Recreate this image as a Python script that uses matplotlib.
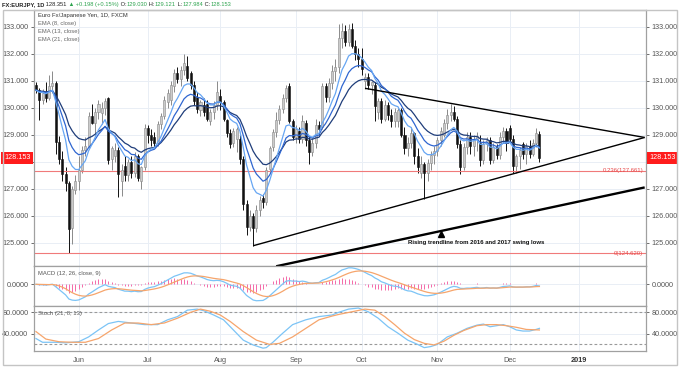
import numpy as np
import pandas as pd
import matplotlib
matplotlib.use('Agg')
import matplotlib.pyplot as plt
import matplotlib.transforms as mtransforms
from matplotlib.patches import Rectangle

# EUR/JPY daily candles, 2018-05-15 .. 2018-12-14
opens = [130.85, 130.65, 130.30, 130.60, 130.35, 130.80, 130.90, 128.75, 128.10, 127.55,
         127.20, 125.55, 126.95, 127.30, 127.70, 128.45, 128.60, 129.70, 129.45, 129.85,
         129.80, 130.00, 130.35, 128.10, 128.20, 128.45, 127.30, 127.85, 127.50, 128.00,
         127.60, 128.20, 127.30, 127.80, 129.25, 129.00, 128.90, 128.70, 129.40, 129.70,
         130.20, 130.30, 130.80, 131.30, 131.05, 131.40, 131.55, 131.30, 130.85, 130.40,
         129.90, 130.10, 130.15, 129.50, 129.85, 130.10, 130.45, 130.20, 129.55, 129.05,
         128.70, 128.85, 128.85, 128.10, 126.45, 125.60, 126.00, 125.55, 126.20, 126.65,
         126.50, 127.75, 128.55, 129.10, 129.55, 129.95, 130.35, 130.80, 129.50, 128.90,
         129.15, 128.85, 129.45, 128.80, 128.35, 128.70, 129.35, 129.30, 130.80, 130.40,
         130.90, 131.35, 131.50, 132.60, 132.85, 132.45, 132.90, 132.30, 132.00, 131.80,
         131.00, 131.15, 130.85, 130.85, 129.85, 130.25, 129.60, 130.10, 129.75, 129.50,
         129.50, 129.90, 129.00, 128.50, 128.70, 129.05, 128.20, 127.60, 127.90, 127.60,
         127.95, 128.25, 128.40, 128.80, 129.00, 129.45, 129.75, 129.85, 129.60, 128.65,
         127.80, 128.55, 128.90, 128.60, 128.85, 128.70, 128.05, 128.65, 128.80, 128.05,
         128.55, 128.25, 128.90, 129.15, 129.25, 128.85, 127.85, 128.20, 128.65, 128.30,
         128.60, 128.30, 128.70, 129.03]
highs = [130.95, 130.75, 130.70, 130.95, 131.20, 131.35, 131.00, 128.95, 128.40, 127.80,
         127.30, 127.10, 127.50, 128.20, 128.60, 128.90, 129.85, 130.15, 130.00, 130.30,
         130.20, 130.35, 130.40, 128.60, 128.70, 128.55, 127.90, 128.20, 128.10, 128.20,
         128.35, 128.30, 127.85, 129.40, 129.35, 129.20, 129.10, 129.50, 129.80, 130.45,
         130.70, 131.00, 131.45, 131.50, 131.55, 131.98, 131.90, 131.35, 131.00, 130.60,
         130.30, 130.35, 130.30, 129.95, 130.25, 131.00, 130.70, 130.30, 129.60, 129.20,
         129.25, 129.30, 129.00, 128.20, 126.60, 126.20, 126.10, 126.40, 126.75, 126.80,
         127.80, 128.60, 129.20, 129.85, 130.10, 130.50, 130.85, 130.90, 129.60, 129.35,
         129.30, 129.75, 129.55, 128.95, 128.90, 129.60, 129.50, 130.90, 130.90, 131.10,
         131.60, 131.80, 133.10, 133.13, 133.05, 133.10, 133.13, 132.50, 132.20, 132.20,
         131.30, 131.30, 131.00, 130.95, 130.35, 130.35, 130.30, 130.20, 129.95, 130.00,
         130.00, 130.00, 129.30, 128.90, 129.30, 129.10, 128.50, 128.20, 128.00, 128.10,
         128.40, 128.60, 128.90, 129.30, 129.60, 129.95, 130.15, 130.05, 129.70, 128.80,
         128.70, 129.10, 129.10, 129.00, 129.10, 129.00, 128.80, 128.90, 128.90, 128.70,
         128.65, 129.10, 129.30, 129.25, 129.35, 129.00, 128.30, 128.55, 128.75, 128.70,
         128.80, 128.85, 129.25, 129.121]
lows = [130.55, 129.55, 130.15, 130.20, 130.30, 130.55, 128.30, 127.90, 127.30, 126.90,
        124.62, 124.95, 126.80, 126.95, 127.60, 128.20, 128.50, 129.40, 129.00, 129.60,
        129.40, 129.75, 127.90, 127.70, 128.00, 126.70, 126.75, 127.30, 127.30, 127.40,
        127.45, 127.30, 127.00, 127.70, 128.70, 128.60, 128.55, 128.60, 129.20, 129.60,
        130.00, 130.10, 130.60, 130.90, 130.80, 131.20, 131.00, 130.70, 130.10, 129.80,
        129.70, 129.70, 129.50, 129.35, 129.60, 129.90, 129.90, 129.50, 128.90, 128.50,
        128.55, 128.35, 127.90, 126.20, 125.30, 125.45, 124.89, 125.40, 126.00, 126.30,
        126.40, 127.60, 128.40, 128.90, 129.40, 129.80, 130.20, 129.45, 128.80, 128.70,
        128.70, 128.70, 128.60, 127.90, 128.20, 128.50, 129.00, 129.20, 130.20, 130.20,
        130.70, 131.00, 131.30, 132.20, 132.30, 132.30, 132.20, 131.75, 131.50, 131.20,
        130.70, 130.70, 130.50, 129.50, 129.60, 129.45, 129.50, 129.55, 129.30, 129.30,
        129.30, 128.90, 128.30, 128.20, 128.50, 127.90, 127.60, 127.40, 126.62, 127.30,
        127.70, 127.90, 128.20, 128.60, 128.90, 129.20, 129.50, 129.50, 128.50, 127.55,
        127.70, 128.30, 128.30, 128.20, 128.40, 127.85, 127.90, 128.40, 127.90, 127.95,
        128.10, 128.10, 128.70, 128.40, 128.70, 127.60, 127.60, 127.75, 128.10, 127.90,
        128.15, 128.20, 128.55, 127.984]
closes = [130.65, 130.30, 130.55, 130.35, 130.80, 130.90, 128.75, 128.10, 127.55, 127.20,
          125.50, 127.00, 127.30, 127.70, 128.45, 128.60, 129.70, 129.45, 129.85, 130.15,
          130.00, 130.25, 128.05, 128.50, 128.45, 127.55, 127.70, 127.50, 128.00, 127.60,
          128.20, 127.40, 127.80, 129.25, 129.00, 128.80, 128.70, 129.40, 129.70, 130.30,
          130.55, 130.85, 131.30, 131.05, 131.40, 131.65, 131.10, 130.85, 130.25, 129.95,
          130.20, 129.85, 129.60, 129.85, 130.10, 130.60, 130.20, 129.60, 129.05, 128.65,
          129.15, 129.20, 128.10, 126.45, 125.60, 126.00, 125.55, 126.20, 126.60, 126.50,
          127.70, 128.50, 129.10, 129.55, 129.95, 130.35, 130.75, 129.50, 128.90, 129.20,
          128.85, 129.50, 128.80, 128.35, 128.70, 129.35, 129.20, 130.80, 130.40, 130.90,
          131.35, 131.50, 132.60, 132.85, 132.45, 132.90, 132.30, 132.00, 131.80, 131.45,
          131.15, 130.85, 130.95, 130.05, 130.25, 129.60, 130.10, 129.75, 129.50, 129.85,
          129.90, 129.00, 128.50, 128.70, 129.05, 128.20, 127.80, 127.90, 127.60, 127.95,
          128.25, 128.40, 128.80, 129.15, 129.45, 129.75, 129.85, 129.60, 128.65, 127.80,
          128.55, 128.90, 128.60, 128.85, 128.95, 128.05, 128.65, 128.80, 128.05, 128.55,
          128.25, 128.90, 129.15, 128.70, 128.85, 127.85, 128.20, 128.45, 128.30, 128.60,
          128.30, 128.70, 129.05, 128.153]

# Stoch (21, 8, 13) lines: bar number -> value
stoch_k_bars = [0, 2, 6, 9, 13, 16, 19, 22, 25, 29, 33, 37, 40, 43, 46, 49, 51, 54, 57, 60,
                63, 66, 69, 70, 72, 75, 78, 82, 86, 90, 92, 95, 98, 101, 104, 107, 110, 113,
                116, 118, 120, 122, 125, 128, 131, 134, 136, 138, 140, 142, 144, 146, 148,
                150, 152, 153]
stoch_k = [31, 24, 24, 23, 25, 34, 47, 59, 63, 60, 57, 57, 66, 72, 84, 86, 83, 75, 66, 47,
           28, 19, 13, 14, 24, 41, 57, 66, 72, 75, 80, 86, 88, 81, 69, 53, 41, 28,
           20, 14, 16, 20, 34, 41, 50, 56, 58, 53, 55, 57, 53, 47, 45,
           45, 48, 50]
stoch_d_bars = [0, 3, 7, 11, 15, 19, 23, 27, 31, 35, 39, 43, 47, 50, 53, 56, 59, 63, 67, 71,
                74, 78, 82, 86, 90, 92, 96, 100, 103, 106, 109, 112, 115, 118, 121, 124,
                127, 130, 134, 137, 140, 143, 146, 149, 153]
stoch_d = [44, 30, 25, 24, 24, 31, 47, 60, 60, 57, 60, 69, 80, 86, 82, 75, 63, 44, 28, 20,
           22, 34, 50, 66, 73, 76, 81, 86, 84, 72, 57, 41, 29, 22, 19, 26,
           37, 46, 55, 57, 57, 55, 52, 48, 47]

start_date = '2018-05-15'
axis_end = '2019-02-01'
month_labels = ['Jun', 'Jul', 'Aug', 'Sep', 'Oct', 'Nov', 'Dec', '2019']
y_ticks = [125, 126, 127, 128, 129, 130, 131, 132, 133]
fib_levels = [127.661, 124.620]
fib_labels = ['0.236(127.661)', '0(124.620)']
last_price = 128.153
# drawn trendlines: (date, price) pairs
upper_line = [('2018-10-02', 130.72), ('2019-01-29', 128.90)]
lower_line = [('2018-08-15', 124.89), ('2019-01-29', 128.90)]
long_line = [('2018-08-24', 124.13), ('2019-01-29', 127.05)]
note_marker = ('2018-11-02', 125.33)
note_text = ('2018-10-19', 125.0, 'Rising trendline from 2016 and 2017 swing lows')

header = [('FX:EURJPY, 1D', '#222', 'bold'), (' 128.351', '#222', 'normal'),
          (' \u25b2', '#2ea44f', 'normal'), (' +0.198 (+0.15%)', '#2ea44f', 'normal'),
          (' O:', '#222', 'normal'), ('129.030', '#2ea44f', 'normal'),
          (' H:', '#222', 'normal'), ('129.121', '#2ea44f', 'normal'),
          (' L:', '#222', 'normal'), ('127.984', '#2ea44f', 'normal'),
          (' C:', '#222', 'normal'), ('128.153', '#2ea44f', 'normal')]
legend_lines = ['Euro Fx/Japanese Yen, 1D, FXCM', 'EMA (8, close)', 'EMA (13, close)', 'EMA (21, close)']

plt.rcParams['font.family'] = ['Liberation Sans', 'DejaVu Sans']

W, H = 680, 368
fig = plt.figure(figsize=(6.8, 3.68), dpi=100)


def rect(x0, y0, x1, y1):
    return [x0 / W, 1 - y1 / H, (x1 - x0) / W, (y1 - y0) / H]


ax = fig.add_axes(rect(34, 10, 646, 266))
axm = fig.add_axes(rect(34, 266, 646, 306), sharex=ax)
axs = fig.add_axes(rect(34, 306, 646, 351), sharex=ax)

all_days = pd.bdate_range(start_date, axis_end)
pos = {d.strftime('%Y-%m-%d'): i for i, d in enumerate(all_days)}
x = np.arange(len(closes))
o, h, l, c = map(np.array, (opens, highs, lows, closes))

# month ticks at the first trading day of each month
month_ticks = []
for i in range(1, len(all_days)):
    if all_days[i].month != all_days[i - 1].month and len(month_ticks) < len(month_labels):
        month_ticks.append(i)

grid_col = '#e9eef5'
spine_col = '#a0a0a0'
tick_col = '#555555'
for a in (ax, axm, axs):
    a.set_facecolor('white')
    for s in a.spines.values():
        s.set_color(spine_col)
        s.set_linewidth(0.9)
    a.tick_params(axis='y', which='both', left=True, right=True, labelleft=True, labelright=True,
                  direction='out', length=2.5, width=0.6, colors=tick_col, labelsize=5.2, pad=1.5)
    a.tick_params(axis='x', length=0, labelbottom=False)
    a.set_xticks(month_ticks)
    a.grid(True, color=grid_col, linewidth=0.7)
    a.set_axisbelow(True)

# candles
up = c >= o
wick_col = np.where(up, '#8a8a8a', '#111111')
ax.vlines(x, l, h, colors=wick_col, linewidth=0.7, zorder=2)
body_lo = np.minimum(o, c)
body_h = np.maximum(np.abs(c - o), 0.03)
ax.bar(x[up], body_h[up], bottom=body_lo[up], width=0.62, color='#cbcbcb',
       edgecolor='#8a8a8a', linewidth=0.4, zorder=3)
ax.bar(x[~up], body_h[~up], bottom=body_lo[~up], width=0.62, color='#111111',
       edgecolor='#111111', linewidth=0.4, zorder=3)

# EMAs
cs = pd.Series(closes)
for span, col in [(21, '#1f3d7a'), (13, '#2f66d0'), (8, '#67a6f3')]:
    ax.plot(x, cs.ewm(span=span, adjust=False).mean(), color=col, linewidth=0.9, zorder=4)

# fib lines
for lvl, lab in zip(fib_levels, fib_labels):
    ax.axhline(lvl, color='#f07a7a', linewidth=0.8, zorder=2)
    ax.text(184.5, lvl, lab, color='#e84a4a', fontsize=4.3, ha='right', va='center', zorder=5)

# trendlines
for line, lw in [(upper_line, 1.0), (lower_line, 1.0), (long_line, 1.7)]:
    xs = [pos[d] for d, _ in line]
    ys = [p for _, p in line]
    ax.plot(xs, ys, color='black', linewidth=lw, zorder=5, solid_capstyle='butt')
ax.plot(pos[note_marker[0]], note_marker[1], marker='^', color='black', markersize=5, zorder=6)
ax.text(pos[note_text[0]], note_text[1], note_text[2], fontsize=4.35, fontweight='bold',
        color='#111', ha='left', va='center', zorder=6)

ax.set_xlim(-0.6, 185.4)
ax.set_ylim(124.14, 133.62)
ax.set_yticks(y_ticks)
ax.yaxis.set_major_formatter(matplotlib.ticker.FormatStrFormatter('%.3f'))

# last price tags
blend = mtransforms.blended_transform_factory(ax.transAxes, ax.transData)
for xa, ha in [(1.005, 'left'), (-0.006, 'right')]:
    ax.text(xa, last_price, '%.3f' % last_price, transform=blend, ha=ha, va='center',
            color='white', fontsize=5.2, zorder=10, clip_on=False,
            bbox=dict(boxstyle='square,pad=0.35', facecolor='#ff1c1c', edgecolor='none'))

# MACD (12, 26, close, 9)
macd = cs.ewm(span=12, adjust=False).mean() - cs.ewm(span=26, adjust=False).mean()
signal = macd.ewm(span=9, adjust=False).mean()
hist = macd - signal
axm.vlines(x, 0, hist, colors='#f46aa8', linewidth=0.7, zorder=2)
axm.plot(x, macd, color='#7cc4f6', linewidth=0.9, zorder=3)
axm.plot(x, signal, color='#f6a56c', linewidth=0.9, zorder=3)
lo = min(macd.min(), signal.min(), hist.min())
hi = max(macd.max(), signal.max(), hist.max())
s = max(-lo / 18.5, hi / 16.5)
axm.set_ylim(-21.7 * s, 18.3 * s)
axm.set_yticks([0])
axm.yaxis.set_major_formatter(matplotlib.ticker.FormatStrFormatter('%.4f'))

# Stoch (21, 8, 13)
for lvl in (80, 20):
    axs.axhline(lvl, color='#9a9a9a', linewidth=0.8, linestyle=(0, (2.5, 2)), zorder=2)
axs.plot(stoch_k_bars, stoch_k, color='#7cc4f6', linewidth=0.9, zorder=3)
axs.plot(stoch_d_bars, stoch_d, color='#f6a56c', linewidth=0.9, zorder=3)
axs.set_ylim(7.7, 91.8)
axs.set_yticks([40, 80])
axs.yaxis.set_major_formatter(matplotlib.ticker.FormatStrFormatter('%.4f'))

# month labels under the bottom panel
axs.tick_params(axis='x', labelbottom=True, length=0, labelsize=5.3, colors=tick_col, pad=4)
axs.set_xticklabels(month_labels)
lab2019 = axs.get_xticklabels()[-1]
lab2019.set_fontweight('bold')
lab2019.set_color('#333333')

# panel captions
fs_leg = 4.2
fig.text(38 / W, 1 - 16 / H, legend_lines[0], fontsize=fs_leg, color='#333', va='center')
for j, t in enumerate(legend_lines[1:]):
    fig.text(38 / W, 1 - (24 + 8 * j) / H, t, fontsize=fs_leg, color='#666', va='center')
fig.text(38 / W, 1 - 274 / H, 'MACD (12, 26, close, 9)', fontsize=fs_leg, color='#555', va='center')
fig.text(38 / W, 1 - 313 / H, 'Stoch (21, 8, 13)', fontsize=fs_leg, color='#555', va='center')

# header line, pieces chained left to right
renderer = fig.canvas.get_renderer()
xpos = 2
for txt, col, wt in header:
    t = fig.text(xpos / W, 1 - 4.5 / H, txt, fontsize=4.15, color=col, fontweight=wt, va='center')
    bb = t.get_window_extent(renderer)
    xpos += bb.width

# outer frame
fig.patches.append(Rectangle((3 / W, 1 - 365 / H), 674 / W, 355.5 / H, transform=fig.transFigure,
                             fill=False, edgecolor='#c4c4c4', linewidth=1.0))

fig.savefig('out.png', dpi=100)
